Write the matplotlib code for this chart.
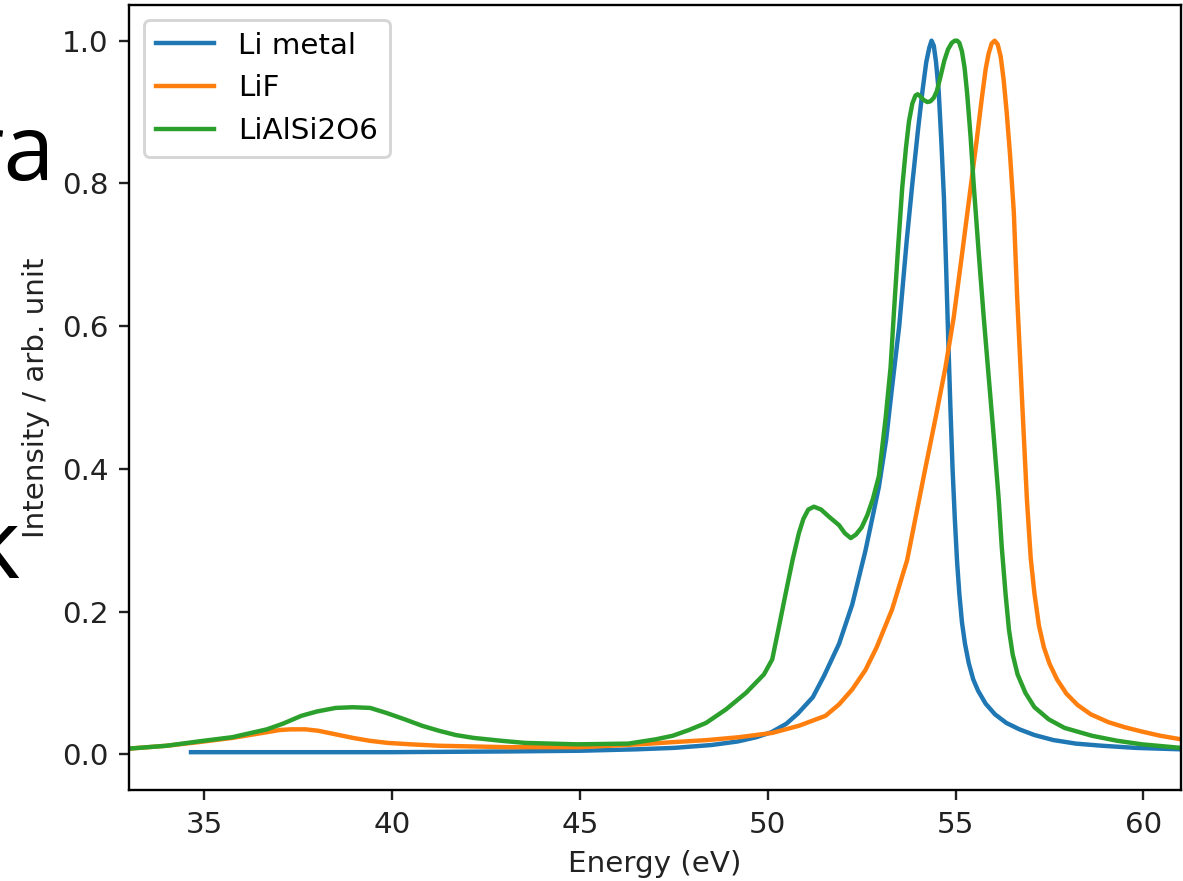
import matplotlib
matplotlib.use("Agg")
import matplotlib.pyplot as plt

# ---- data ----
series_names = ["Li metal", "LiF", "LiAlSi2O6"]

li_metal_x = [34.65, 37.0, 40.0, 43.0, 45.0, 46.5, 47.5, 48.5, 49.2, 49.7, 50.1, 50.5, 50.8,
              51.2, 51.5, 51.9, 52.25, 52.6, 52.96, 53.15, 53.3, 53.5, 53.7, 53.85, 54.0, 54.12,
              54.22, 54.3, 54.36, 54.42, 54.48, 54.55, 54.62, 54.69, 54.75, 54.8, 54.86, 54.92,
              54.98, 55.04, 55.1, 55.17, 55.25, 55.35, 55.47, 55.6, 55.8, 56.05, 56.35, 56.7,
              57.1, 57.6, 58.2, 58.9, 59.8, 61.0]
li_metal_y = [0.003, 0.003, 0.003, 0.004, 0.005, 0.007, 0.009, 0.013, 0.018, 0.024, 0.031, 0.043,
              0.057, 0.08, 0.11, 0.155, 0.21, 0.285, 0.375, 0.44, 0.51, 0.6, 0.72, 0.8, 0.875,
              0.93, 0.97, 0.99, 1.0, 0.993, 0.97, 0.93, 0.86, 0.78, 0.68, 0.59, 0.49, 0.4, 0.33,
              0.27, 0.225, 0.185, 0.155, 0.128, 0.105, 0.089, 0.071, 0.056, 0.044, 0.035, 0.027,
              0.02, 0.015, 0.012, 0.009, 0.007]

lif_x = [33.0, 34.0, 34.84, 35.75, 36.67, 37.0, 37.3, 37.7, 38.04, 38.5, 38.96, 39.4, 39.88,
         40.5, 41.25, 43.08, 45.0, 46.58, 47.46, 48.4, 49.24, 50.12, 50.83, 51.54, 51.9, 52.25,
         52.6, 52.9, 53.31, 53.71, 54.2, 54.47, 54.73, 54.95, 55.17, 55.4, 55.57, 55.7, 55.8,
         55.88, 55.96, 56.04, 56.12, 56.2, 56.28, 56.36, 56.45, 56.55, 56.64, 56.77, 56.9, 57.0,
         57.1, 57.22, 57.35, 57.5, 57.7, 57.95, 58.25, 58.6, 59.07, 59.5, 59.95, 60.45, 61.0]
lif_y = [0.008, 0.012, 0.017, 0.023, 0.031, 0.034, 0.035, 0.035, 0.033, 0.028, 0.023, 0.019,
         0.016, 0.014, 0.012, 0.01, 0.01, 0.014, 0.017, 0.02, 0.024, 0.03, 0.04, 0.054, 0.07,
         0.091, 0.118, 0.15, 0.203, 0.272, 0.402, 0.472, 0.542, 0.612, 0.7, 0.794, 0.864, 0.92,
         0.96, 0.982, 0.996, 1.0, 0.995, 0.978, 0.945, 0.9, 0.84, 0.76, 0.64, 0.496, 0.356,
         0.275, 0.225, 0.18, 0.15, 0.127, 0.105, 0.085, 0.069, 0.056, 0.045, 0.038, 0.032,
         0.026, 0.021]

lialsi2o6_x = [33.0, 34.0, 34.84, 35.75, 36.67, 37.1, 37.59, 38.0, 38.5, 38.96, 39.42, 39.85,
               40.34, 40.8, 41.25, 41.7, 42.17, 42.9, 43.54, 44.92, 46.29, 47.02, 47.47, 47.9,
               48.36, 48.89, 49.42, 49.9, 50.12, 50.3, 50.48, 50.66, 50.83, 50.95, 51.08, 51.23,
               51.42, 51.63, 51.9, 52.05, 52.21, 52.35, 52.5, 52.65, 52.8, 52.96, 53.14, 53.27,
               53.36, 53.47, 53.58, 53.68, 53.76, 53.85, 53.93, 53.99, 54.06, 54.15, 54.25, 54.33,
               54.42, 54.5, 54.6, 54.7, 54.8, 54.9, 54.98, 55.04, 55.1, 55.17, 55.24, 55.31,
               55.4, 55.48, 55.62, 55.75, 55.88, 56.01, 56.15, 56.23, 56.33, 56.42, 56.52, 56.65,
               56.86, 57.1, 57.48, 57.9, 58.63, 59.3, 59.96, 61.0]
lialsi2o6_y = [0.008, 0.012, 0.018, 0.024, 0.035, 0.043, 0.054, 0.06, 0.065, 0.066, 0.065,
               0.058, 0.049, 0.04, 0.033, 0.027, 0.023, 0.019, 0.016, 0.014, 0.015, 0.021,
               0.026, 0.034, 0.044, 0.063, 0.086, 0.112, 0.133, 0.179, 0.226, 0.272, 0.31,
               0.33, 0.343, 0.347, 0.343, 0.333, 0.321, 0.31, 0.303, 0.308, 0.318, 0.335, 0.358,
               0.39, 0.472, 0.542, 0.62, 0.71, 0.794, 0.85, 0.887, 0.912, 0.923, 0.925, 0.922,
               0.917, 0.914, 0.915, 0.92, 0.929, 0.95, 0.972, 0.988, 0.997, 1.0, 1.0, 0.997,
               0.985, 0.962, 0.925, 0.865, 0.8, 0.7, 0.612, 0.53, 0.449, 0.356, 0.29, 0.225,
               0.175, 0.14, 0.112, 0.086, 0.066, 0.049, 0.037, 0.026, 0.019, 0.014, 0.009]

x_ticks = [35, 40, 45, 50, 55, 60]
y_ticks = [0.0, 0.2, 0.4, 0.6, 0.8, 1.0]

# ---- figure ----
S = 2.12  # scale of the screenshot relative to default matplotlib size
W, H = 1183, 881
fig = plt.figure(figsize=(W / 100, H / 100), dpi=100)
ax = fig.add_axes([129 / W, 1 - 790 / H, 1052 / W, 785 / H])

colors = ["#1f77b4", "#ff7f0e", "#2ca02c"]
ax.plot(li_metal_x, li_metal_y, color=colors[0], lw=1.5 * S, label=series_names[0])
ax.plot(lif_x, lif_y, color=colors[1], lw=1.5 * S, label=series_names[1])
ax.plot(lialsi2o6_x, lialsi2o6_y, color=colors[2], lw=1.5 * S, label=series_names[2])

ax.set_xlim(33, 61)
ax.set_ylim(-0.05, 1.05)
ax.set_xticks(x_ticks)
ax.set_xticklabels([str(t) for t in x_ticks])
ax.set_yticks(y_ticks)
ax.set_yticklabels([f"{t:.1f}" for t in y_ticks])

fs = 10 * S
ax.tick_params(labelsize=fs, length=3.5 * S, width=0.8 * S, pad=3.5 * S, colors="#222222",
               labelcolor="#222222")
for sp in ax.spines.values():
    sp.set_linewidth(0.8 * S)
ax.set_xlabel("Energy (eV)", fontsize=fs, labelpad=4 * S, color="#222222")
ax.set_ylabel("Intensity / arb. unit", fontsize=fs, labelpad=4 * S, color="#222222")

leg = ax.legend(loc="upper left", fontsize=fs, frameon=True)
leg.get_frame().set_linewidth(1.0 * S)

# stray slide text visible at the left edge of the screenshot
slide_font = ["Liberation Sans Narrow", "Open Sans"]
fig.text(55 / W, 1 - 180 / H, "ra", fontsize=66, family=slide_font, ha="right",
         va="baseline", color="black")
fig.text(20 / W, 1 - 578 / H, "k", fontsize=70, family=slide_font, ha="right",
         va="baseline", color="black")

fig.savefig("out.png", dpi=100)
